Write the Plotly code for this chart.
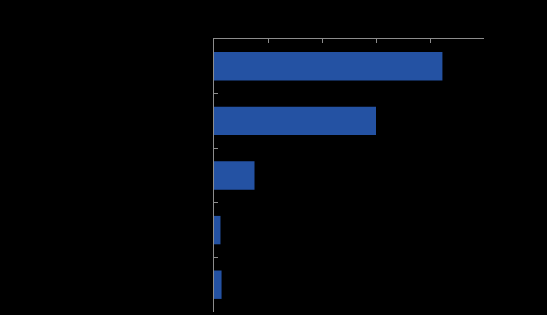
import plotly.graph_objects as go

categories = ["Category 1", "Category 2", "Category 3", "Category 4", "Category 5"]
values = [42.3, 30.0, 7.5, 1.2, 1.4]
x_ticks = [0, 10, 20, 30, 40, 50]

fig = go.Figure(go.Bar(
    y=categories, x=values, orientation="h",
    marker=dict(color="#2452A3", line=dict(width=0)),
))

fig.update_layout(
    width=547, height=315,
    paper_bgcolor="black", plot_bgcolor="black",
    margin=dict(l=214, r=63, t=39, b=3),
    bargap=0.48,
    showlegend=False,
    font=dict(family="Liberation Sans", size=11, color="black"),
)
fig.update_xaxes(
    side="top", range=[0, 50], tickvals=x_ticks,
    showgrid=False, zeroline=False,
    showline=True, linecolor="#8c8c8c", linewidth=1,
    ticks="inside", ticklen=4, tickcolor="#8c8c8c",
    tickfont=dict(color="black"),
)
fig.update_yaxes(
    autorange="reversed", showgrid=False, zeroline=False,
    showline=True, linecolor="#8c8c8c", linewidth=1,
    ticks="inside", ticklen=4, tickcolor="#8c8c8c", tickson="boundaries",
    tickfont=dict(color="black"),
)

fig.write_html("out.html")
